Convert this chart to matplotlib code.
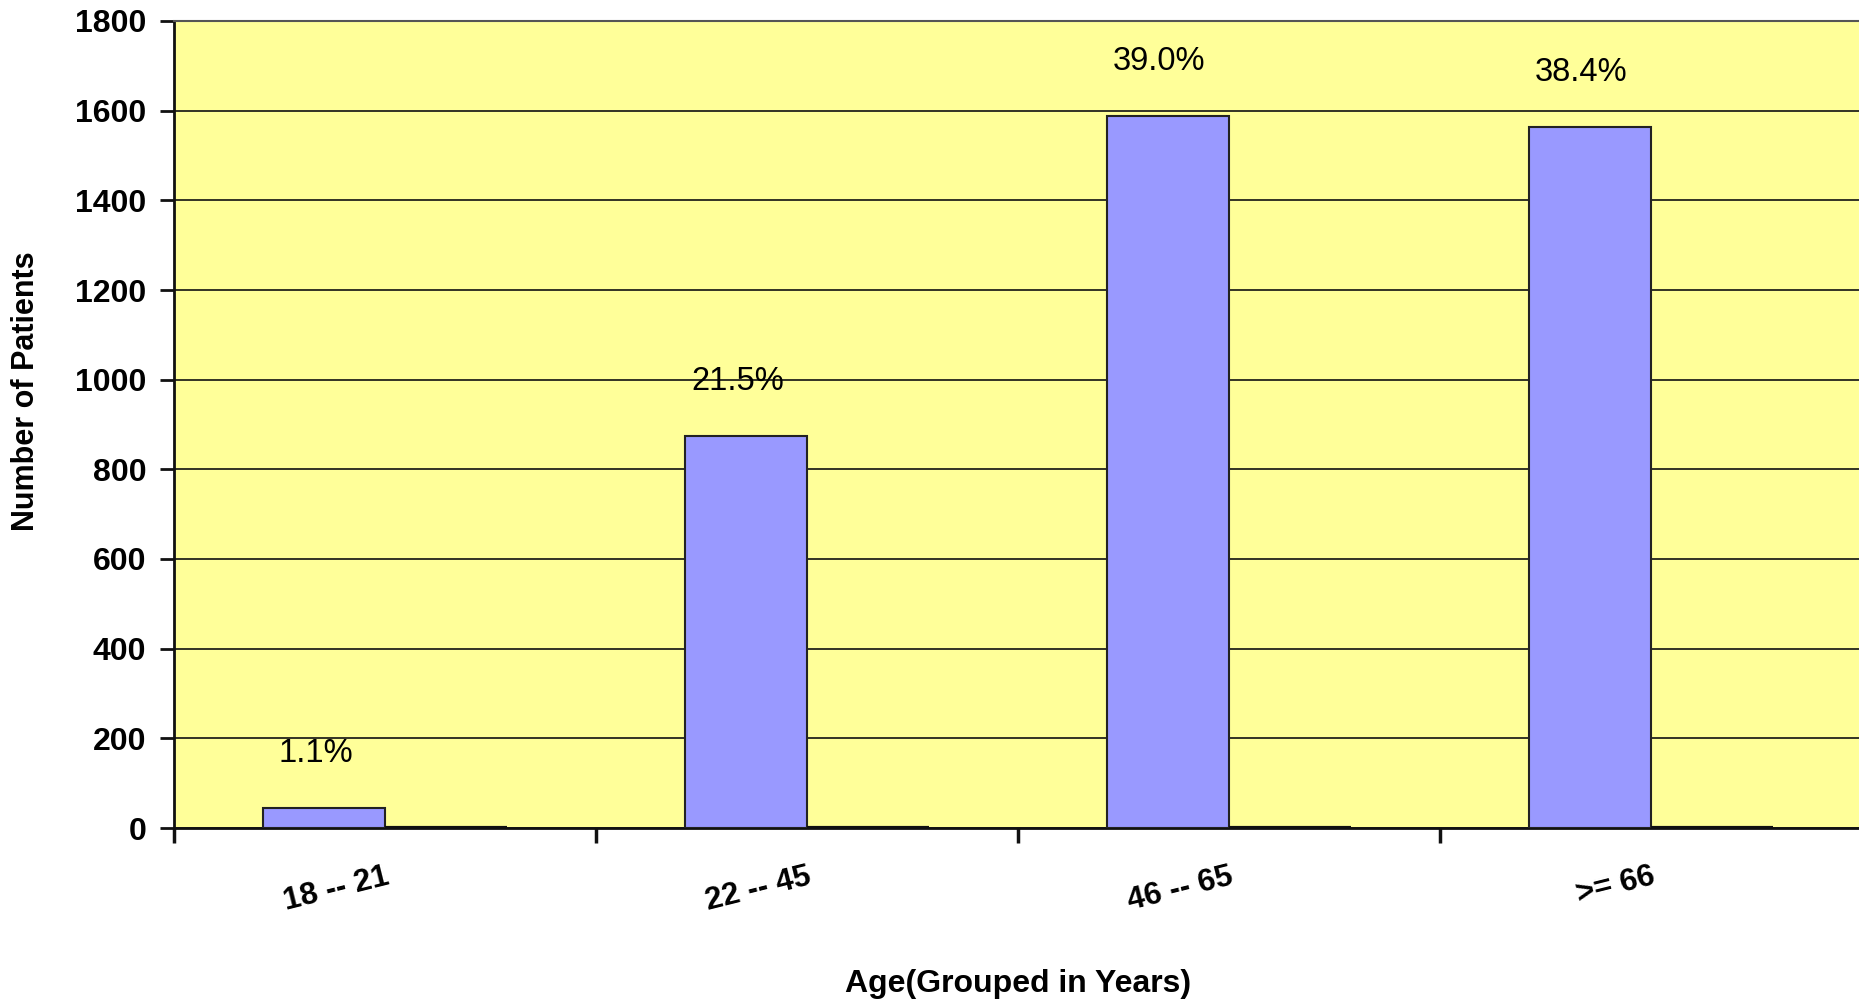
import numpy as np
import matplotlib
matplotlib.use("Agg")
import matplotlib.pyplot as plt
from matplotlib import rcParams

# police proche d'Arial
rcParams['font.family'] = ['Liberation Sans', 'DejaVu Sans']

# Données
age_groups = ['18 -- 21', '22 -- 45', '46 -- 65', '>= 66']
patients = [45, 875, 1587, 1563]
empty_series = [0, 0, 0, 0]
percent_labels = ['1.1%', '21.5%', '39.0%', '38.4%']
y_ticks = [0, 200, 400, 600, 800, 1000, 1200, 1400, 1600, 1800]

fig = plt.figure(figsize=(18.59, 10.02), dpi=100)
ax = fig.add_axes([174 / 1859, 174 / 1002, (1862 - 174) / 1859, (828 - 21) / 1002])
ax.set_facecolor('#FFFF99')

x = np.arange(len(age_groups))
w = 0.29
ax.set_axisbelow(True)
ax.grid(axis='y', color='#111111', linewidth=1.2)

ax.bar(x - w, patients, width=w, align='edge', color='#9999FF',
       edgecolor='#222222', linewidth=1.5, zorder=3)
ax.bar(x, empty_series, width=w, align='edge', color='#9999FF',
       edgecolor='#111111', linewidth=3, zorder=3)

# étiquettes en pourcentage au-dessus des barres
for xi, v, lab in zip(x, patients, percent_labels):
    ax.text(xi - 0.165, v + 122, lab, ha='center', va='center', fontsize=23.5, color='black')

ax.set_xlim(-0.5, 3.5)
ax.set_ylim(0, 1800)
ax.set_yticks(y_ticks)
ax.set_yticklabels([str(t) for t in y_ticks], fontsize=23, fontweight='bold')
ax.tick_params(axis='y', length=10, width=2, pad=10, color='#111111')

# graduations aux limites des catégories, libellés au centre
ax.set_xticks(np.arange(-0.5, 4.0, 1.0))
ax.set_xticklabels([''] * 5)
ax.tick_params(axis='x', which='major', length=11, width=2.5, color='#111111')
ax.set_xticks(x, minor=True)
ax.set_xticklabels(age_groups, minor=True, fontsize=22.5, fontweight='bold',
                   rotation=14, ha='right', va='top', rotation_mode='anchor')
ax.tick_params(axis='x', which='minor', length=0, pad=24)

ax.set_ylabel('Number of Patients', fontsize=22, fontweight='bold')
ax.yaxis.set_label_coords(-0.079, 0.541)
ax.set_xlabel('Age(Grouped in Years)', fontsize=23, fontweight='bold', labelpad=38)

for side in ['left', 'bottom']:
    ax.spines[side].set_color('#111111')
    ax.spines[side].set_linewidth(2)
ax.spines['top'].set_color('#555555')
ax.spines['top'].set_linewidth(1.5)

fig.savefig('out.png', dpi=100)
